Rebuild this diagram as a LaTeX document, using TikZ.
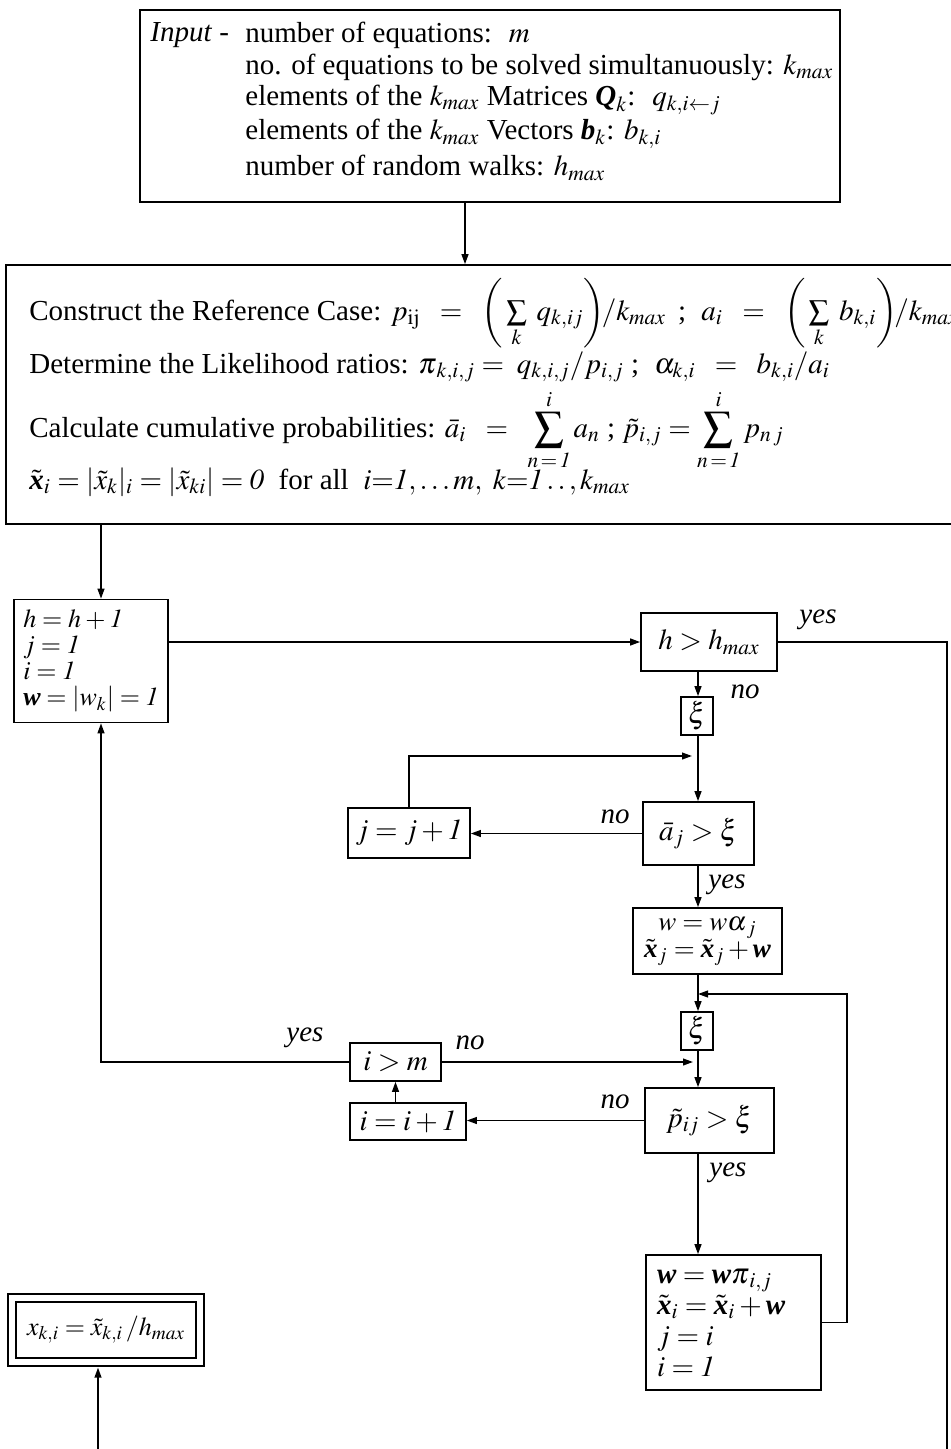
\documentclass[tikz,border=0pt]{standalone}
\usepackage{amsmath}
\usepackage{mathptmx}
\usepackage{fontspec}
\setmainfont{Liberation Serif}
\usetikzlibrary{arrows.meta,calc}
\newcommand{\bv}[1]{\text{\bfseries\itshape #1}}
\newcommand{\one}{\mathit{1}}
\newcommand{\tightm}{\thickmuskip=4mu\medmuskip=3mu}
\tikzset{
  box/.style={draw, line width=0.8pt, inner sep=0pt, align=center},
  conn/.style={line width=0.8pt},
  arr/.style={line width=0.8pt, -{Triangle[length=5pt,width=3.4pt]}},
  lab/.style={font=\fontsize{14.5}{17}\selectfont\itshape, inner sep=0pt},
  txt/.style={anchor=west, inner sep=0pt},
}
\begin{document}
\begin{tikzpicture}[x=0.5pt, y=-0.5pt, font=\fontsize{14.5}{17}\selectfont]
\useasboundingbox (0,0) rectangle (951,1449);
% coordinates for connector bends and free ends
\coordinate (sp) at (698,0);
\coordinate (sp2) at (693,0);
\coordinate (hin) at (101,0);
\coordinate (ain) at (465,0);
\coordinate (loopA) at (692,756);
\coordinate (lr) at (847,994);
\coordinate (rr) at (947,1449);
\coordinate (xb) at (98,1449);

% input box
\node[box, minimum width=350pt, minimum height=96pt] (input) at (490,106) {};
\node[txt] (in0) at (150,35) {\textit{Input} -};
\node[txt] (in1) at (245,35) {number of equations: \ $m$};
\node[txt] (in2) at (245,67) {no. of equations to be solved simultanuously: $k_{max}$};
\node[txt] (in3) at (245,100) {elements of the $k_{max}$ Matrices $\bv{Q}_k$: \ $q_{k,i\leftarrow j}$};
\node[txt] (in4) at (245,134) {elements of the $k_{max}$ Vectors $\bv{b}_k$: $b_{k,i}$};
\node[txt] (in5) at (245,168) {number of random walks: $h_{max}$};

% big box
\node[box, minimum width=497pt, minimum height=129.5pt] (big) at (503,394.5) {};
\node[txt] (r1) at (29,313) {Construct the Reference Case: $p_{\mathrm{ij}} \;\;=\;\; \bigg(\textstyle\sum\limits_k \; q_{k,ij}\bigg)\!/k_{max}$ \,;\; $a_i \;\;=\;\; \bigg(\textstyle\sum\limits_k \; b_{k,i}\bigg)\!/k_{max}$};
\node[txt] (r2) at (29,367) {Determine the Likelihood ratios: $\boldsymbol{\pi}_{k,i,j} = \; q_{k,i,j}/p_{i,j}$ ;\; $\alpha_{k,i} \;\;=\;\; b_{k,i}/a_i$};
\node[txt] (r3) at (29,430) {Calculate cumulative probabilities: $\bar a_i \;\;=\;\; \displaystyle\sum_{n\,=\,\one}^{i} a_n$ ; $\tilde p_{i,j} = \displaystyle\sum_{n\,=\,\one}^{i} p_{n\,j}$};
\node[txt] (r4) at (29,482) {$\tilde{\bv{x}}_i = |\tilde x_k|_i = |\tilde x_{ki}| = \mathit{0}$ \ for all \ $i{=}\one, \ldots m,\ k{=}\one\,.\,.\,,k_{max}$};

% main loop boxes
\node[box, minimum width=77pt, minimum height=61.5pt, align=left,
      font=\fontsize{13}{13}\selectfont] (hbox) at (91,661)
  {\mbox{$\tightm h = h + \one$}\\ \mbox{$\tightm j = \one$}\\ \mbox{$\tightm i = \one$}\\ \mbox{$\tightm \bv{w} = \left|w_k\right| = \one$}};
\node[box, minimum width=68pt, minimum height=29pt] (hmax) at (709,642) {$h > h_{max}$};
\node[box, minimum width=16pt, minimum height=19pt] (xi1) at (697,716) {$\xi$};
\node[box, minimum width=55.5pt, minimum height=31.5pt] (abar) at (698.5,833.5) {$\bar a_j > \xi$};
\node[box, minimum width=61pt, minimum height=25pt] (jbox) at (409,833) {$j = j + \one$};
\node[box, minimum width=74.5pt, minimum height=33pt,
      font=\fontsize{13.5}{13.5}\selectfont] (wbox) at (707.5,941)
  {$w = w\boldsymbol{\alpha}_j$\\ $\tilde{\bv{x}}_j = \tilde{\bv{x}}_j + \bv{w}$};
\node[box, minimum width=16pt, minimum height=19pt] (xi2) at (697,1031) {$\xi$};
\node[box, minimum width=45.5pt, minimum height=19pt] (imbox) at (395.5,1062) {$i > m$};
\node[box, minimum width=58pt, minimum height=18.5pt] (iibox) at (408,1121.5) {$i = i + \one$};
\node[box, minimum width=64.5pt, minimum height=32.5pt] (pbox) at (709.5,1120.5) {$\tilde p_{ij} > \xi$};
\node[box, minimum height=67.5pt, text width=76.5pt, inner xsep=5.5pt, align=left,
      font=\fontsize{14.5}{15.5}\selectfont] (fbox) at (733.5,1322.5)
  {$\bv{w} = \bv{w}\boldsymbol{\pi}_{i,j}$\\ $\tilde{\bv{x}}_i = \tilde{\bv{x}}_i + \bv{w}$\\ $j = i$\\ $i = \one$};
\node[box, double, double distance=3.2pt, minimum width=94pt, minimum height=32pt,
      font=\fontsize{13}{15}\selectfont] (xbox) at (106,1330)
  {$x_{k,i} = \tilde x_{k,i}\,/h_{max}$};

% labels
\node[lab] (yes1) at (818,620) {yes};
\node[lab] (no1) at (745,692) {no};
\node[lab] (no2) at (615,817) {no};
\node[lab] (yes2) at (727,885) {yes};
\node[lab] (yes3) at (305,1038) {yes};
\node[lab] (no3) at (470,1043) {no};
\node[lab] (no4) at (615,1102) {no};
\node[lab] (yes4) at (728,1173) {yes};

% connectors
\draw[arr] (input.south -| ain) -- (big.north -| ain);
\draw[arr] (big.south -| hin) -- (hbox.north -| hin);
\draw[arr] (hbox.east |- hmax.west) -- (hmax.west);
\draw[conn] (hmax.east) -| (rr);
\draw[arr] (hmax.south -| sp) -- (xi1.north -| sp);
\draw[arr] (xi1.south -| sp) -- (abar.north -| sp);
\draw[arr] (jbox.north) |- (loopA);
\draw[arr] (abar.west) -- (jbox.east |- abar.west);
\draw[arr] (abar.south -| sp) -- (wbox.north -| sp);
\draw[arr] (wbox.south -| sp) -- (xi2.north -| sp);
\draw[arr] (fbox.east) -| (lr) -- (lr -| sp);
\draw[arr] (xi2.south -| sp) -- (pbox.north -| sp);
\draw[arr] (imbox.east) -- (imbox.east -| sp2);
\draw[arr] (pbox.west) -- (iibox.east |- pbox.west);
\draw[arr] (iibox.north -| imbox.south) -- (imbox.south);
\draw[arr] (imbox.west) -| (hbox.south -| hin);
\draw[arr] (pbox.south -| sp) -- (fbox.north -| sp);
\draw[arr, shorten >=2.4pt] (xb) -- (xbox.south -| xb);
\end{tikzpicture}
\end{document}
